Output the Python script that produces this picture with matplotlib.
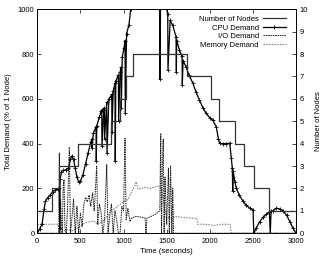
import matplotlib
matplotlib.use("Agg")
import matplotlib.pyplot as plt

# ── Data ──────────────────────────────────────────────────────────────────
node_t = [0, 174, 253, 476, 850, 960, 1025, 1113, 1736, 2018, 2111, 2297, 2401, 2509, 2691, 3000]
node_n = [1, 2, 3, 4, 5, 6, 7, 8, 7, 6, 5, 4, 3, 2, 1, 1]

cpu_t = [0, 30, 55, 80, 95, 120, 150, 180, 210, 240, 255, 260, 265, 280, 300, 330,
         360, 385, 400, 420, 440, 460, 480, 500, 530, 560, 590, 620, 631, 635, 650,
         681, 684, 690, 720, 740, 747, 750, 770, 777, 780, 805, 808, 830, 850, 863,
         866, 880, 901, 904, 910, 940, 943, 960, 971, 974, 985, 1004, 1017, 1020,
         1035, 1062, 1083, 1150, 1300, 1419, 1422, 1430, 1480, 1500, 1512, 1515,
         1540, 1570, 1609, 1612, 1615, 1648, 1678, 1681, 1690, 1725, 1760, 1803,
         1840, 1880, 1920, 1958, 2000, 2035, 2074, 2100, 2113, 2150, 2190, 2230,
         2249, 2260, 2265, 2270, 2290, 2307, 2340, 2385, 2420, 2462, 2500, 2510,
         2540, 2578, 2620, 2655, 2690, 2700, 2710, 2733, 2772, 2810, 2850, 2890,
         2927, 2960, 3000]
cpu_v = [0, 20, 40, 110, 143, 158, 171, 185, 193, 198, 200, 25, 240, 275, 280, 283,
         290, 330, 345, 330, 290, 250, 228, 232, 262, 310, 360, 405, 420, 380, 446,
         475, 321, 480, 520, 545, 550, 388, 550, 560, 420, 585, 358, 600, 610, 620,
         450, 635, 670, 321, 680, 705, 500, 720, 740, 560, 787, 825, 860, 538,
         891, 929, 1000, 1100, 1150, 1100, 687, 1100, 1050, 1000, 980, 729,
         950, 928, 876, 721, 860, 817, 790, 662, 770, 742, 705, 670,
         630, 594, 560, 535, 515, 504, 475, 420, 402, 400, 400, 402,
         335, 290, 190, 277, 230, 201, 170, 143, 125, 112, 104, 0,
         25, 52, 72, 85, 95, 0, 100, 100, 112, 108, 100, 80,
         52, 25, 0]

io_t = [0, 250, 256, 262, 270, 280, 290, 300, 310, 320, 335, 350, 372, 385, 400, 420,
        440, 460, 480, 500, 520, 540, 560, 580, 600, 620, 640, 660, 689, 700, 720,
        740, 760, 780, 805, 820, 840, 860, 880, 900, 920, 940, 960, 980, 1000, 1017,
        1030, 1050, 1075, 1100, 1150, 1200, 1250, 1260, 1270, 1320, 1385, 1420, 1431,
        1440, 1450, 1460, 1470, 1480, 1500, 1520, 1530, 1545, 1560, 1570, 1580, 3000]
io_v = [0, 0, 358, 0, 150, 50, 0, 200, 240, 30, 0, 100, 384, 0, 60, 150,
        0, 120, 0, 90, 30, 130, 160, 140, 170, 120, 180, 100, 300, 40, 130,
        90, 0, 60, 306, 0, 80, 130, 0, 100, 60, 0, 0, 120, 100, 424,
        60, 110, 52, 70, 75, 72, 67, 0, 67, 75, 89, 100, 446,
        0, 300, 420, 0, 250, 40, 290, 0, 300, 0, 200, 0, 0]

mem_t = [0, 240, 250, 260, 300, 350, 400, 450, 500, 550, 600, 650, 700, 750, 800,
         850, 900, 950, 1000, 1050, 1100, 1130, 1145, 1170, 1250, 1300, 1350, 1400,
         1440, 1460, 1480, 1500, 1560, 1600, 1700, 1800, 1848, 1860, 1950, 2050,
         2150, 2235, 2250, 3000]
mem_v = [40, 40, 0, 5, 10, 15, 10, 20, 30, 45, 50, 55, 40, 50, 70,
         100, 110, 125, 140, 150, 190, 210, 230, 196, 205, 200, 205, 210,
         200, 150, 100, 70, 67, 75, 70, 67, 67, 40, 40, 35,
         40, 40, 0, 0]

x_ticks = [0, 500, 1000, 1500, 2000, 2500, 3000]
y_ticks = [0, 200, 400, 600, 800, 1000]
y2_ticks = list(range(0, 11))

# ── Figure ────────────────────────────────────────────────────────────────
plt.rcParams["font.family"] = ["Liberation Sans", "DejaVu Sans"]
fs = 5.5

fig = plt.figure(figsize=(3.24, 2.56), dpi=100)
ax = fig.add_axes([0.115, 0.089, 0.799, 0.875])
ax2 = ax.twinx()

h_cpu, = ax.plot(cpu_t, cpu_v, color="black", lw=0.9, marker="+", ms=2.6,
                 mew=0.6, label="CPU Demand", zorder=4)
h_io, = ax.plot(io_t, io_v, color="#222222", lw=0.7, ls=(0, (1.6, 0.8)),
                label="I/O Demand", zorder=3)
h_mem, = ax.plot(mem_t, mem_v, color="#777777", lw=0.7, ls=(0, (1.6, 1.2)),
                 label="Memory Demand", zorder=2)
h_nodes, = ax2.step(node_t, node_n, where="post", color="#333333", lw=0.9,
                    label="Number of Nodes")

ax.set_xlim(0, 3000)
ax.set_ylim(0, 1000)
ax2.set_ylim(0, 10)
ax.set_xticks(x_ticks)
ax.set_yticks(y_ticks)
ax2.set_yticks(y2_ticks)

ax.tick_params(axis="x", direction="in", top=True, labelsize=fs, length=3, width=0.5, pad=3.5)
ax.tick_params(axis="y", direction="in", right=False, labelsize=fs, length=3, width=0.5, pad=2)
ax2.tick_params(axis="y", direction="in", labelsize=fs, length=3, width=0.5, pad=2.5)
for a in (ax, ax2):
    for sp in a.spines.values():
        sp.set_linewidth(0.6)

ax.set_xlabel("Time (seconds)", fontsize=fs, labelpad=2)
ax.set_ylabel("Total Demand (% of 1 Node)", fontsize=fs, labelpad=4)
ax2.set_ylabel("Number of Nodes", fontsize=fs, labelpad=5)

leg = ax.legend(handles=[h_nodes, h_cpu, h_io, h_mem], loc="upper right",
                bbox_to_anchor=(0.98, 0.995), markerfirst=False, frameon=False,
                fontsize=fs, handlelength=3.0, handletextpad=0.5,
                labelspacing=0.15, borderpad=0.2)

fig.savefig("out.png", dpi=100)
